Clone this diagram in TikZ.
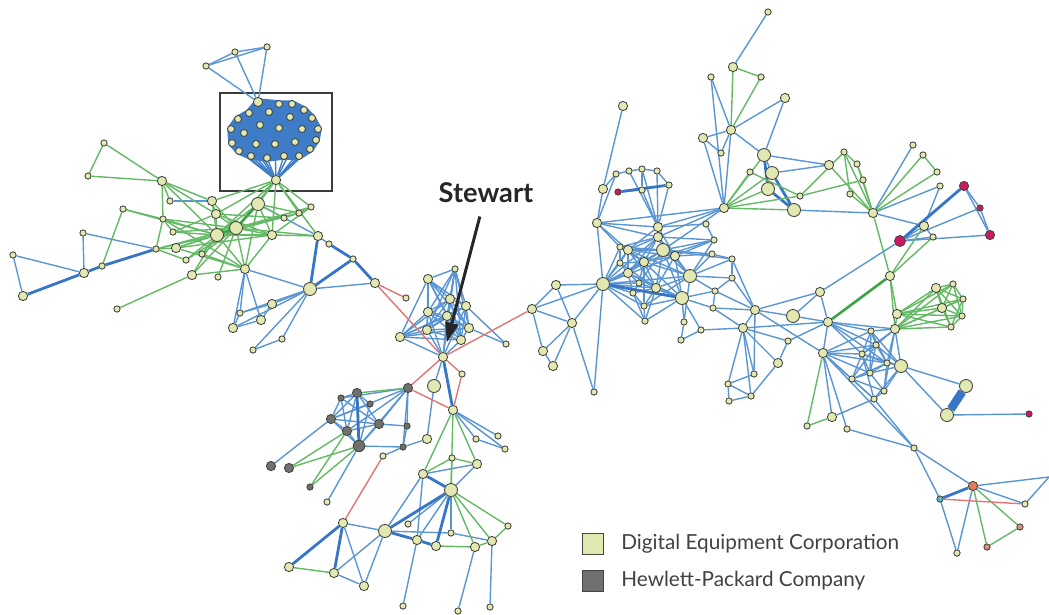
\documentclass[tikz,border=0pt]{standalone}
\usepackage{fontspec}
\setmainfont{Lato}
\usetikzlibrary{positioning,arrows.meta}

\definecolor{decfill}{RGB}{226,232,178}
\definecolor{nodeline}{RGB}{70,70,60}
\definecolor{hpfill}{RGB}{112,112,112}
\definecolor{eblue}{RGB}{90,150,212}
\definecolor{dblue}{RGB}{55,118,198}
\definecolor{cblue}{RGB}{62,124,200}
\definecolor{egreen}{RGB}{100,185,100}
\definecolor{dgreen}{RGB}{60,165,70}
\definecolor{ered}{RGB}{226,118,118}
\definecolor{magnode}{RGB}{205,25,100}
\definecolor{orgnode}{RGB}{225,125,90}
\definecolor{cyannode}{RGB}{80,185,205}
\definecolor{pinknode}{RGB}{225,140,130}
\definecolor{textgray}{RGB}{65,65,65}
\definecolor{boxgray}{RGB}{60,60,60}

\pgfdeclarelayer{edges}
\pgfsetlayers{edges,main}

\tikzset{
	sn/.style={circle,draw=nodeline,fill=decfill,line width=0.5pt,inner sep=0pt,minimum size=1.25mm},
	kn/.style={sn,minimum size=1.4mm},
	mn/.style={sn,minimum size=1.85mm},
	ln/.style={sn,minimum size=2.6mm},
	hp/.style={fill=hpfill},
	mg/.style={fill=magnode},
	be/.style={draw=eblue,line width=0.8pt},
	bt/.style={draw=dblue,line width=1.6pt},
	ge/.style={draw=egreen,line width=0.8pt},
	gt/.style={draw=dgreen,line width=1.5pt},
	re/.style={draw=ered,line width=0.8pt},
	legbox/.style={draw=nodeline,line width=0.6pt,minimum size=4.2mm,inner sep=0pt},
	legtext/.style={font=\fontsize{11.8}{14}\selectfont,text=textgray,inner sep=0pt}
}

\begin{document}
\begin{tikzpicture}[x=0.2mm,y=-0.2mm]
	\useasboundingbox (0,0) rectangle (1049,614);

	% Small nodes
	\foreach \n/\x/\y in {t1/206/66,t2/235/52,t3/267/47,
		l1/104/143,l2/88/176,l4/170/201,l7/311/207,l8/123/209,l10/299/213,l11/284/218,l12/163/219,l14/83/233,l15/173/232,
		l19/329/244,l20/353/259,l21/13/255,l22/156/249,l24/202/254,l25/186/260,l26/102/266,l30/218/277,l33/117/309,
		l35/240/313,l38/282/339,l39/253/350,
		s2/406/298,s4/455/269,s13/506/344,s14/462/374,
		h14/498/436,h15/476/439,h16/505/449,h17/383/456,h21/327/502,
		b1/452/458,b7/408/524,b8/508/526,b9/451/533,b17/403/606,b18/458/611,b19/490/607,
		c6/594/392,c9/616/174,c10/629/171,c11/642/169,c12/657/171,c13/669/185,c15/642/190,c18/706/224,c20/714/240,
		c21/620/247,c25/712/254,c26/620/263,c29/732/259,c31/732/278,c32/639/283,c34/633/293,c35/715/291,c37/644/306,
		c38/713/308,c39/645/321,c40/684/322,c41/681/340,c42/701/330,
		u1/768/12,u3/761/77,u4/711/77,u8/721/153,u10/750/172,u13/800/196,u17/844/152,u18/857/164,u19/863/180,
		u20/850/194,u22/913/145,u23/923/155,u24/937/172,u25/940/186,u31/933/237,
		r3/953/284,r4/963/299,r6/962/316,r7/951/327,r16/788/341,r19/871/331,r20/876/345,r21/862/354,r22/887/363,
		r23/870/373,r24/852/379,r26/884/391,r27/874/399,r28/754/374,r29/728/384,r30/751/396,r31/729/401,
		r32/807/426,r34/847/429,r35/914/448,r41/1025/504,r44/957/553}
		\node[sn] (\n) at (\x,\y) {};

	% Medium nodes
	\foreach \n/\x/\y in {k0/258/102,kh/276/180,l3/162/181,l5/212/201,l9/216/214,l17/272/235,l18/318/236,l23/176/248,
		l27/84/273,l28/245/269,l29/192/275,l31/23/296,l34/272/304,l36/261/320,l37/233/328,
		s1/375/283,s3/428/279,s5/450/299,s6/466/306,s7/428/312,s8/447/316,s9/469/328,s10/427/330,s11/400/337,
		s12/461/340,st/443/357,h12/427/439,h13/453/410,
		b2/477/464,b3/423/474,b5/343/523,b10/417/540,b11/436/546,b12/475/547,b13/492/541,b14/289/567,b15/334/573,b16/364/586,
		c1/532/309,c2/556/285,c3/572/323,c4/543/351,c5/553/366,c8/603/189,c16/597/223,c17/658/227,c19/658/237,
		c22/628/250,c24/675/256,c27/644/262,c30/628/273,c33/656/288,c43/623/106,
		u2/733/67,u5/785/98,u6/731/130,u7/703/138,u15/724/208,u16/829/165,u21/873/213,u30/924/226,
		r1/890/276,r2/936/288,r5/942/308,r8/897/314,r9/895/329,r10/820/292,r11/755/310,r13/828/322,r15/743/328,
		r17/778/363,r18/823/353,r33/832/417}
		\node[mn] (\n) at (\x,\y) {};

	% Large nodes
	\foreach \n/\x/\y in {l6/258/204,l13/236/228,l16/217/235,l32/310/289,h1/434/386,b4/451/490,b6/385/531,
		c7/603/284,c23/663/250,c28/690/276,c36/682/298,u9/764/155,u11/772/173,u12/768/189,u14/794/210,
		r12/793/316,r25/901/366,r36/966/386,r37/947/415}
		\node[ln] (\n) at (\x,\y) {};

	% Box cluster
	\foreach \n/\x/\y in {k1/279/104,k2/292/104,k3/304/110,k4/249/113,k5/269/112,k6/290/117,k7/312/118,k8/238/119,
		k9/260/125,k10/279/128,k11/302/129,k12/318/129,k13/231/129,k14/244/133,k15/316/140,k16/232/143,k17/256/144,
		k18/275/144,k19/295/142,k20/310/149,k21/239/151,k22/251/156,k23/267/158,k24/284/156,k25/299/156}
		\node[kn] (\n) at (\x,\y) {};

	% Hewlett-Packard nodes
	\foreach \n/\x/\y in {h2/408/388,h3/357/393,h6/331/419,h7/379/424,h8/347/431,h18/271/466,h19/289/468}
		\node[mn,hp] (\n) at (\x,\y) {};
	\foreach \n/\x/\y in {h4/341/398,h5/370/404,h9/407/426,h11/403/447,h20/310/487}
		\node[sn,hp] (\n) at (\x,\y) {};
	\node[ln,hp,minimum size=2.3mm] (h10) at (359,446) {};

	% Other companies
	\node[sn,mg] (c14) at (618,192) {};
	\node[mn,mg] (u26) at (964,186) {};
	\node[sn,mg] (u27) at (980,208) {};
	\node[mn,mg] (u28) at (990,235) {};
	\node[ln,mg,minimum size=2.2mm] (u29) at (900,241) {};
	\node[sn,mg] (r38) at (1029,414) {};
	\node[mn,fill=orgnode] (r39) at (973,486) {};
	\node[sn,fill=cyannode] (r40) at (940,499) {};
	\node[sn,fill=pinknode] (r42) at (1020,527) {};
	\node[sn,fill=pinknode] (r43) at (987,547) {};
	\coordinate (redge) at (1049,477);

	\begin{pgfonlayer}{edges}
	% Dense cluster in the box
	\fill[cblue,draw=cblue,line width=1.5mm,line join=round] (k0.center) -- (k1.center) -- (k2.center) -- (k3.center)
		-- (k7.center) -- (k12.center) -- (k15.center) -- (k20.center) -- (k25.center) -- (k24.center) -- (k23.center)
		-- (k22.center) -- (k21.center) -- (k16.center) -- (k13.center) -- (k8.center) -- (k4.center) -- cycle;
	\foreach \k in {k13,k16,k21,k22,k23,k24,k25,k20,k15,k14,k17,k18,k19,k12}
		\draw[draw=cblue,line width=0.8pt] (kh) -- (\k);
	\draw[draw=boxgray,line width=1.1pt] (220,93) rectangle (332,191);

	% Blue edges
	\foreach \a/\b in {t1/t2,t1/t3,t2/t3,t1/k0,t2/k0,t3/k0,
		l4/l5,l14/l27,l14/l22,l21/l27,l21/l31,l28/l37,l28/l35,l28/l36,l28/l32,l6/l18,l32/l34,l32/l35,l32/l37,l32/l38,
		l32/l39,l38/l39,l34/l35,l37/l36,l37/l35,l34/l36,l32/s1,l18/l19,
		s3/s4,s3/s5,s3/s6,s3/s7,s3/s8,s3/s11,s4/s5,s4/s6,s4/s8,s4/s9,s4/s12,s4/st,s5/s6,s5/s7,s5/s9,s5/s10,s6/s8,
		s6/s9,s6/s12,s7/s8,s7/s10,s7/s11,s8/s9,s8/s10,s8/s12,s8/st,s9/s12,s9/s13,s10/s11,s10/s12,s10/st,s11/s12,
		s11/st,s11/s9,s12/st,s6/st,s7/st,s6/s13,
		s3/s9,s3/s10,s4/s7,s4/s10,s5/s11,s5/s12,s6/s10,s7/s9,s7/s12,s8/s11,s5/st,s9/s10,s6/s11,s3/s12,
		st/h1,h1/h12,h2/h4,h2/h6,h2/h7,h2/h8,h2/h9,h2/h10,h2/h11,h3/h4,h3/h5,h3/h6,h3/h7,h3/h8,h4/h6,h4/h7,h4/h8,
		h5/h6,h5/h10,h6/h8,h6/h7,h6/h10,h7/h8,h7/h9,h7/h10,h8/h10,h9/h11,h10/h11,h11/h12,h11/h17,h6/h18,h10/h21,
		h13/h14,h13/h15,h13/h16,h15/h16,b3/b2,b2/b4,b4/b7,b4/b10,b4/b9,b6/b9,b3/b10,b3/b6,b5/b6,b5/b16,b15/b16,
		b15/b6,b6/b16,b10/b17,b12/b18,b13/b19,b9/b13,
		c1/c2,c1/c3,c1/c4,c1/c7,c2/c3,c2/c7,c3/c4,c3/c5,c4/c5,c3/c7,c6/c7,c6/c3,
		c7/c16,c7/c21,c7/c22,c7/c26,c7/c27,c7/c30,c7/c32,c7/c23,c7/c28,c7/c33,c7/c34,c7/c37,c7/c39,c7/c24,c7/c19,
		c8/c16,c8/c9,c8/c43,c9/c10,c10/c11,c11/c12,c12/c13,c9/c16,c10/c17,c11/c17,c12/c17,c13/c17,c14/c15,c15/c17,
		c11/c15,c16/c17,c16/c19,c17/c19,c17/c23,c17/c18,u15/c17,u15/c19,u15/c16,u15/c23,
		c19/c22,c19/c23,c19/c24,c19/c27,c19/c28,c22/c23,c22/c27,c22/c30,c22/c21,c23/c24,c23/c27,c23/c28,c23/c30,
		c23/c33,c24/c28,c24/c27,c24/c20,c24/c25,c27/c28,c27/c30,c27/c33,c28/c33,c28/c29,c28/c31,c28/c35,c28/c25,
		c30/c32,c30/c33,c33/c36,c32/c34,c34/c37,c36/c38,c36/c35,c36/c37,c36/c39,c37/c39,c21/c26,c26/c30,c22/c28,
		c21/c23,c26/c27,c20/c28,c25/c29,c29/c31,c31/c35,c28/c40,c36/c40,c36/c42,c40/c41,c41/c42,c20/c19,c18/c20,
		c16/c22,c16/c21,c17/c22,c17/c24,c19/c30,c22/c24,c22/c33,c23/c36,c24/c33,c24/c36,c27/c36,c27/c32,c30/c36,
		c21/c27,c26/c33,c22/c26,c30/c34,c27/c37,c28/c37,c23/c32,c19/c21,c25/c23,c23/c29,c33/c37,c32/c36,c33/c34,
		c39/c33,c39/c34,c20/c23,c20/c27,
		r11/c35,r11/c38,r11/c31,r11/c29,r11/r15,r11/r10,r11/r12,r11/r28,r15/r28,r15/r29,r15/r30,r15/r13,r15/r16,
		r15/c38,r15/c42,c35/c38,r29/r30,r29/r31,r31/r30,r28/r29,r30/r17,r17/r16,r16/r13,r12/r13,r12/r10,r10/r13,
		r15/r17,r11/r18,r10/u29,
		r13/r18,r13/r19,r13/r9,r13/r20,r18/r33,r18/r34,r18/r21,r18/r22,r18/r23,r18/r24,r18/r27,r18/r35,r18/r19,
		r18/r20,r19/r20,r19/r9,r20/r21,r20/r22,r21/r22,r21/r23,r22/r25,r22/r23,r23/r24,r24/r27,r23/r26,r26/r27,
		r25/r26,r20/r25,r9/r25,r9/r22,r21/r24,r19/r22,r9/r26,
		r21/r25,r19/r25,r19/r21,r20/r23,r20/r24,r22/r24,r22/r26,r24/r26,r21/r27,r9/r20,r9/r21,r13/r21,r13/r22,
		r25/r27,r23/r25,r19/r23,
		r33/r27,r34/r35,r27/r35,r35/r39,r35/r40,r39/r41,r39/redge,r41/redge,r40/r44,r39/r44,r25/r36,r25/r37,r37/r38,
		u1/u2,u4/u6,u4/u15,u5/u6,u5/u9,u7/u6,u7/u8,u8/u6,u7/u15,u6/u15,u6/u9,u9/u11,u9/u16,u11/u16,u14/u21,
		u21/u22,u21/u25,u21/u30,u25/u30,u26/u28,u26/u27,u27/u28,u27/u29,u29/u28,u29/u30,u30/u31,u29/u31}
		\draw[be] (\a) -- (\b);

	% Thick blue edges
	\foreach \a/\b in {l31/l27,l27/l26,l26/l22,l19/l20,l32/l20,l18/l32,l20/s1,st/h13,h3/h10,b3/b4,b4/b6,b4/b11,
		b6/b10,b10/b11,b5/b14,b5/b15,c14/c13,u9/u12,u11/u14,u12/u14,u26/u29,r39/r40,c7/c36}
		\draw[bt] (\a) -- (\b);
	\draw[draw=dblue,line width=1.7mm] (r36) -- (r37);

	% Green edges
	\foreach \a/\b in {l1/l2,l2/l3,l1/l3,l3/l4,l3/l12,l3/l5,l8/l26,l8/l12,l8/l16,l33/l29,
		kh/l5,kh/l6,kh/l9,kh/l13,kh/l17,kh/l10,kh/l7,kh/l18,kh/l16,
		l12/l13,l12/l16,l12/l28,l22/l13,l22/l16,l23/l13,l23/l17,l25/l13,l24/l16,l29/l28,l29/l13,l30/l13,l16/l28,
		l13/l28,l16/l10,l13/l10,l13/l7,l17/l7,l17/l18,l9/l11,l3/l16,l3/l9,l15/l9,l5/l16,l5/l13,l28/l17,l28/l6,
		l10/l7,l9/l13,l16/l13,l23/l16,l15/l16,l22/l23,l12/l15,l24/l13,l6/l11,l11/l10,l6/l17,
		l13/l17,l16/l17,l6/l13,l6/l16,l9/l16,l5/l9,l12/l22,l22/l25,l15/l13,l25/l16,l24/l28,l29/l16,l23/l28,l13/l18,
		l6/l10,l9/l17,
		h2/h3,h8/h19,h10/h19,h8/h20,h10/h20,
		h13/b3,h13/b2,h13/b4,b3/b1,b1/b2,b1/b4,b4/b12,b4/b13,b4/b8,b8/b13,b11/b12,b12/b13,b14/b15,
		u2/u3,u2/u6,u3/u6,u15/u10,u15/u12,u15/u14,u15/u13,u15/u9,u15/u11,u10/u13,u16/u21,u17/u21,u18/u21,u19/u21,
		u20/u21,u13/u17,u13/u19,u17/u18,u18/u19,u17/u20,u21/u23,u23/u24,u21/u24,u21/r1,r1/u30,r1/u31,r1/r8,r1/r9,
		r18/r32,r32/r33,r39/r43,r39/r42,r42/r43,r8/r9,
		r8/r2,r8/r3,r8/r4,r8/r5,r8/r6,r8/r7,r9/r2,r9/r5,r9/r6,r9/r7,r9/r4,r2/r3,r2/r4,r2/r5,r2/r6,r2/r7,r3/r4,r3/r6,
		r4/r5,r4/r6,r5/r6,r5/r7,r6/r7,r3/r5,r4/r7,r9/r3}
		\draw[ge] (\a) -- (\b);
	\foreach \a/\b in {r1/r13,l16/l13,l13/l6}
		\draw[gt] (\a) -- (\b);

	% Red edges
	\foreach \a/\b in {s1/s2,s1/st,st/c1,st/s14,st/h2,s14/h13,h2/h13,h17/b5,r40/r41}
		\draw[re] (\a) -- (\b);
	\end{pgfonlayer}

	% Label
	\node[font=\fontsize{15.5}{18}\selectfont\bfseries,text=black!85] (stlabel) at (486,193) {Stewart};
	\draw[line width=1.7pt,draw=black!85,-{Triangle[length=4mm,width=2.6mm]},shorten <=1.5mm,shorten >=2mm] (stlabel) -- (st);

	% Legend
	\node[legbox,fill=decfill] (decbox) at (593,544) {};
	\node[legtext,right=3.4mm of decbox] (dectext) {Digital Equipment Corporation};
	\node[legbox,fill=hpfill,below=3mm of decbox] (hpbox) {};
	\node[legtext,right=3.4mm of hpbox] (hptext) {Hewlett-Packard Company};
\end{tikzpicture}
\end{document}
